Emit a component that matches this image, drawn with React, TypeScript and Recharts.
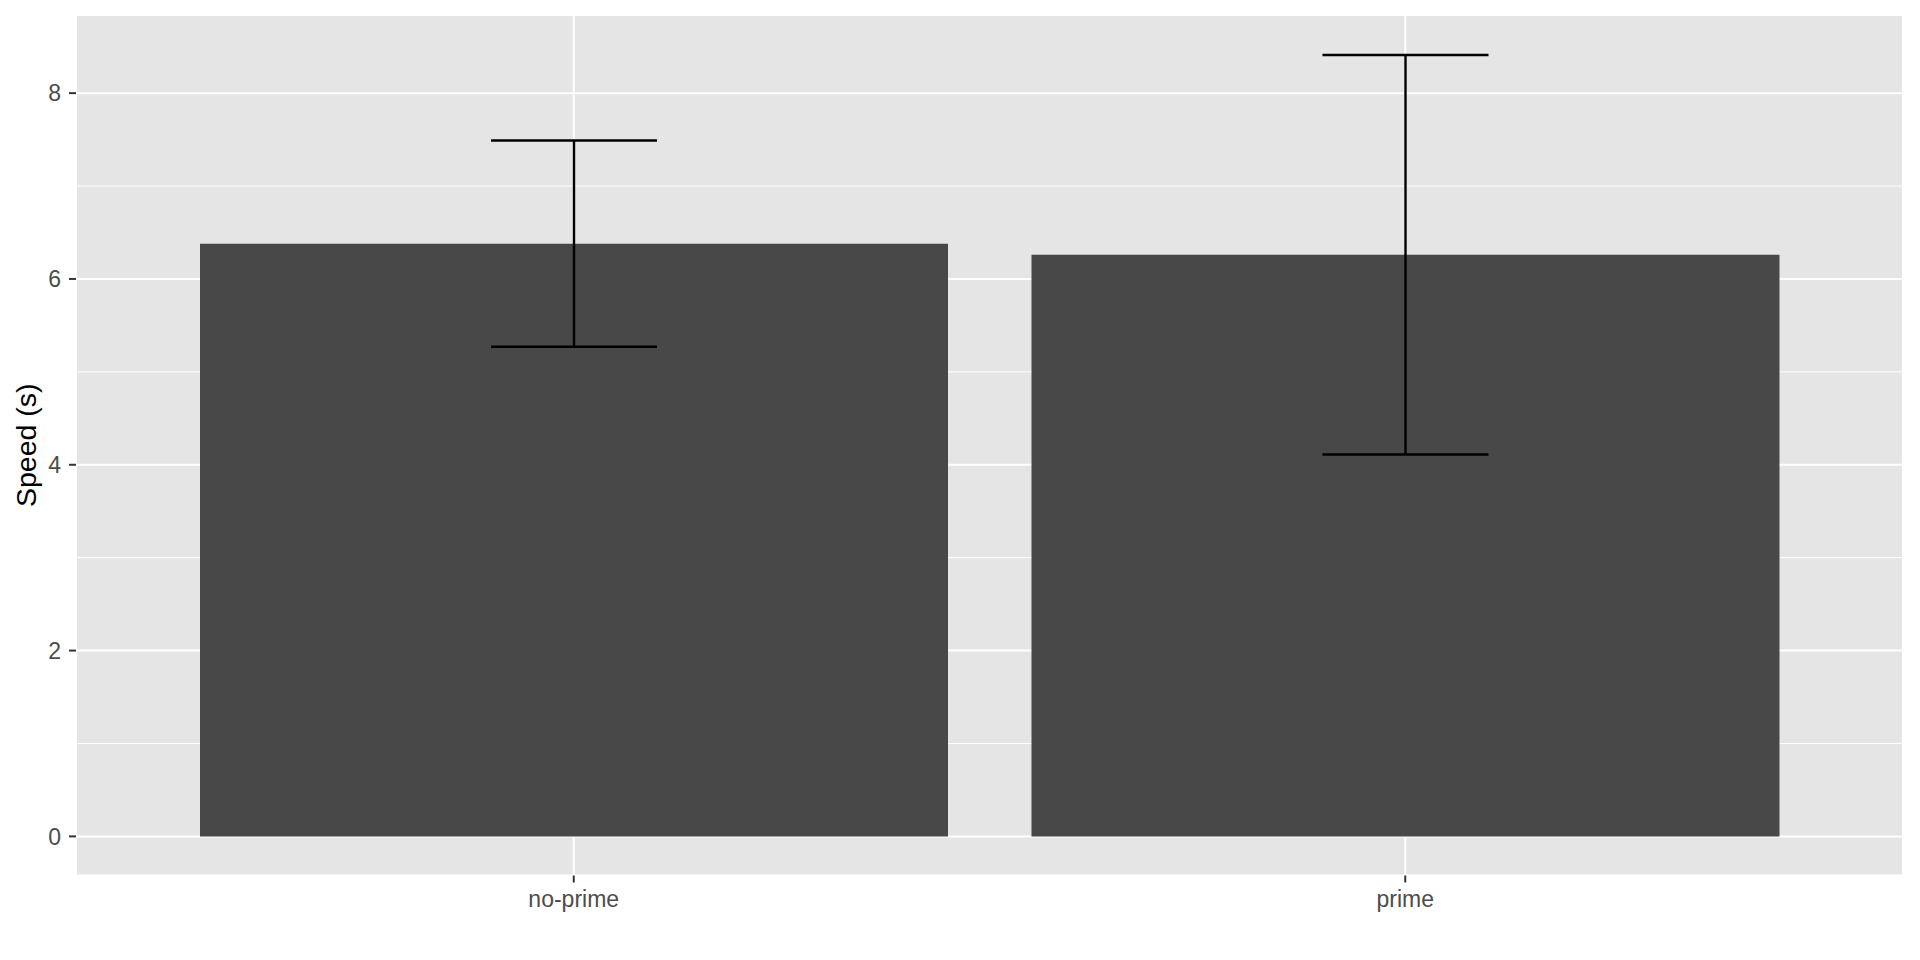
import React from 'react';
import { BarChart, Bar, XAxis, YAxis, CartesianGrid, ErrorBar, Label } from 'recharts';

// values
const categories = ['no-prime', 'prime'];
const meanSpeed = [6.38, 6.26];
const speedError = [1.11, 2.15];
const majorTicks = [0, 2, 4, 6, 8];
const minorTicks = [1, 3, 5, 7];
const yDomain = [-0.421, 8.841];

const data = categories.map((name, i) => ({ name, speed: meanSpeed[i], err: speedError[i] }));

const FONT = '"Liberation Sans", Arial, Helvetica, sans-serif';

const YTitle = (props: any) => {
  const { viewBox } = props;
  const cx = viewBox.x + 26;
  const cy = viewBox.y + viewBox.height / 2;
  return (
    <text
      x={cx}
      y={cy}
      transform={`rotate(-90, ${cx}, ${cy})`}
      textAnchor="middle"
      dominantBaseline="central"
      fontSize={28.5}
      fill="#000"
      fontFamily={FONT}
    >
      Speed (s)
    </text>
  );
};

const App: React.FC = () => {
  return (
    <div style={{ position: 'absolute', left: 0, top: 0, width: 1920, height: 960, background: '#fff', fontFamily: FONT }}>
      <BarChart width={1920} height={960} data={data} margin={{ top: 15, right: 17, bottom: 0, left: 0 }}>
        <CartesianGrid
          yAxisId="minor"
          vertical={false}
          fill="#E5E5E5"
          stroke="#FFFFFF"
          strokeWidth={1}
        />
        <CartesianGrid yAxisId="main" stroke="#FFFFFF" strokeWidth={2} />
        <XAxis
          dataKey="name"
          height={84.5}
          padding={{ left: 82, right: 82 }}
          axisLine={false}
          tickLine={{ stroke: '#333333', strokeWidth: 2 }}
          tickSize={7}
          tickMargin={8}
          tick={{ fill: '#4D4D4D', fontSize: 23, fontFamily: FONT }}
        />
        <YAxis
          yAxisId="main"
          type="number"
          domain={yDomain}
          ticks={majorTicks}
          allowDataOverflow
          width={76}
          axisLine={false}
          tickLine={{ stroke: '#333333', strokeWidth: 2 }}
          tickSize={7}
          tickMargin={8}
          tick={{ fill: '#4D4D4D', fontSize: 23, fontFamily: FONT }}
        >
          <Label content={<YTitle />} />
        </YAxis>
        <YAxis yAxisId="minor" type="number" domain={yDomain} ticks={minorTicks} allowDataOverflow hide />
        <Bar yAxisId="main" dataKey="speed" fill="#484848" barSize={748} isAnimationActive={false}>
          <ErrorBar dataKey="err" direction="y" width={83} stroke="#000000" strokeWidth={2.4} />
        </Bar>
      </BarChart>
    </div>
  );
};

export default App;
